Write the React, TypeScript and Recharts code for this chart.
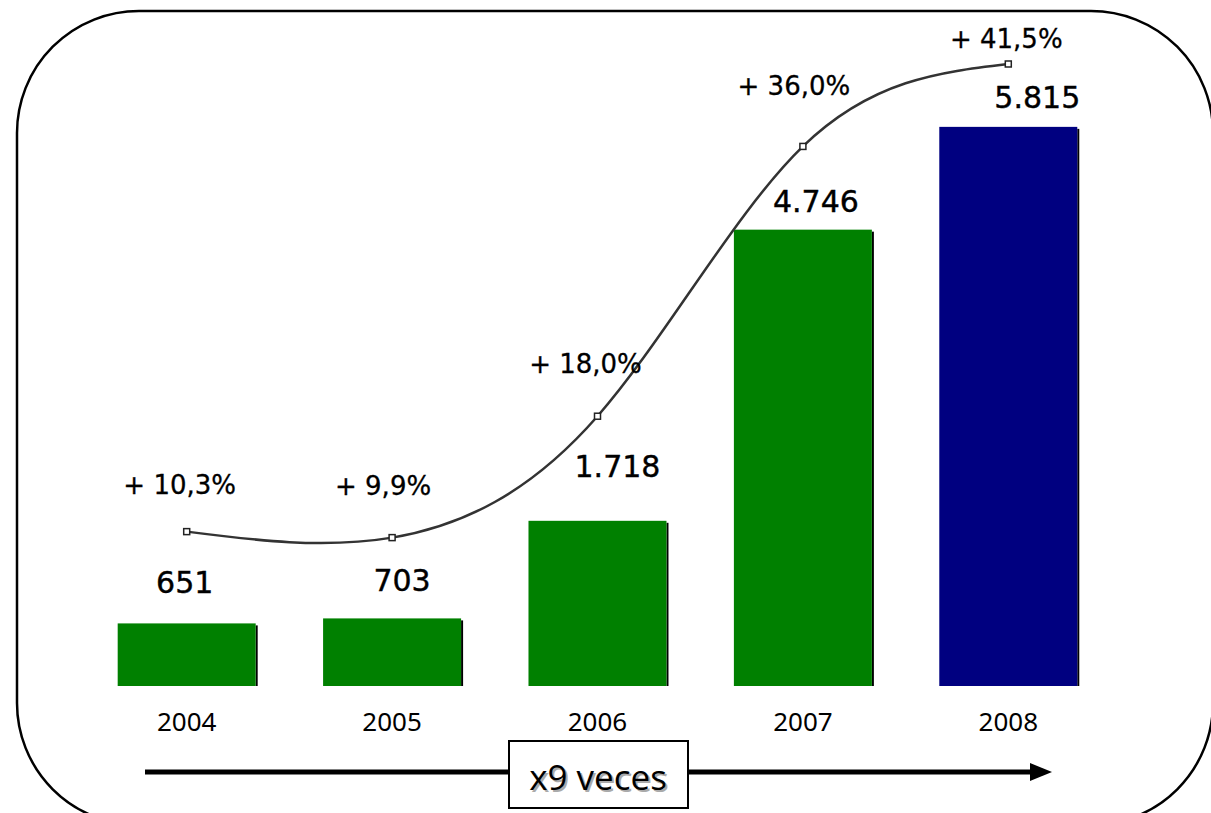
import React from 'react';
import { ComposedChart, Bar, Line, XAxis, YAxis, LabelList } from 'recharts';

const years = ['2004', '2005', '2006', '2007', '2008'];
const sales = [651, 703, 1718, 4746, 5815];
const growth = [10.3, 9.9, 18.0, 36.0, 41.5];

const barColors = ['#008000', '#008000', '#008000', '#008000', '#000080'];
const salesLabelDx = [-2, 10, 20, 13, 29];
const salesLabelDy = [-41, -38, -54, -28, -29];
const growthLabelDx = [-7, -9, -12, -9, -2];
const growthLabelDy = [-47, -52, -52, -60, -25];

const chartData = years.map((y, i) => ({ year: y, sales: sales[i], growth: growth[i] }));

const fmtSales = (v: number) => String(v).replace(/\B(?=(\d{3})+(?!\d))/g, '.');
const fmtGrowth = (v: number) => '+ ' + v.toFixed(1).replace('.', ',') + '%';

const LABEL_FONT = '"DejaVu Sans", sans-serif';

const ShadowBar = (props: any) => {
  const { x, y, width, height, index } = props;
  return (
    <g>
      <rect x={x + width} y={y + 2} width={2} height={Math.max(0, height - 2)} fill="#000" />
      <rect x={x} y={y} width={width} height={height} fill={barColors[index]} />
    </g>
  );
};

const SquareDot = (props: any) => {
  const { cx, cy, index } = props;
  if (cx == null || cy == null) return null;
  return <rect key={'d' + index} x={cx - 3} y={cy - 3} width={6} height={6} fill="#fff" stroke="#222" strokeWidth={1.5} />;
};

const SalesLabel = (props: any) => {
  const { x, y, width, value, index } = props;
  return (
    <text
      x={x + width / 2 + salesLabelDx[index]}
      y={y + salesLabelDy[index]}
      textAnchor="middle"
      dominantBaseline="central"
      fontFamily={LABEL_FONT}
      fontSize={30}
      fill="#000"
      stroke="#000"
      strokeWidth={0.4}
    >
      {fmtSales(value)}
    </text>
  );
};

const GrowthLabel = (props: any) => {
  const { x, y, value, index } = props;
  return (
    <text
      x={x + growthLabelDx[index]}
      y={y + growthLabelDy[index]}
      textAnchor="middle"
      dominantBaseline="central"
      fontFamily={LABEL_FONT}
      fontSize={26}
      fill="#000"
      stroke="#000"
      strokeWidth={0.3}
    >
      {fmtGrowth(value)}
    </text>
  );
};

export default function App() {
  return (
    <div style={{ position: 'fixed', left: 0, top: 0, width: 1211, height: 813, background: '#fff', overflow: 'hidden' }}>
      <svg width={1211} height={813} style={{ position: 'absolute', left: 0, top: 0 }}>
        <rect x={17} y={11} width={1196} height={814} rx={122} ry={122} fill="none" stroke="#000" strokeWidth={2.5} />
      </svg>
      <div style={{ position: 'absolute', left: 0, top: 0 }}>
        <ComposedChart width={1211} height={813} data={chartData} margin={{ top: 61, right: 100, bottom: 87, left: 84 }} barCategoryGap="16.4%">
          <XAxis
            dataKey="year"
            axisLine={false}
            tickLine={false}
            height={40}
            tickMargin={21}
            tick={{ fontFamily: '"Noto Sans", sans-serif', fontSize: 26, fill: '#000' }}
          />
          <YAxis yAxisId="sales" domain={[0, 6500]} hide />
          <YAxis yAxisId="pct" orientation="right" domain={[0, 41.7]} hide />
          <Bar yAxisId="sales" dataKey="sales" shape={ShadowBar} isAnimationActive={false}>
            <LabelList dataKey="sales" content={SalesLabel} />
          </Bar>
          <Line
            yAxisId="pct"
            type="natural"
            dataKey="growth"
            stroke="#333"
            strokeWidth={2.5}
            dot={SquareDot}
            activeDot={false}
            isAnimationActive={false}
          >
            <LabelList dataKey="growth" content={GrowthLabel} />
          </Line>
        </ComposedChart>
      </div>
      <svg width={1211} height={813} style={{ position: 'absolute', left: 0, top: 0 }}>
        <line x1={145} y1={772} x2={1034} y2={772} stroke="#000" strokeWidth={5} />
        <polygon points="1030,763 1052,772 1030,781" fill="#000" />
        <rect x={509} y={741} width={179} height={67} fill="#fff" stroke="#000" strokeWidth={2} />
        <text x={600} y={778} textAnchor="middle" dominantBaseline="central" fontFamily='"Open Sans", sans-serif' fontSize={35} fill="#aaa">x9 veces</text>
        <text x={598} y={776} textAnchor="middle" dominantBaseline="central" fontFamily='"Open Sans", sans-serif' fontSize={35} fill="#000">x9 veces</text>
      </svg>
    </div>
  );
}
